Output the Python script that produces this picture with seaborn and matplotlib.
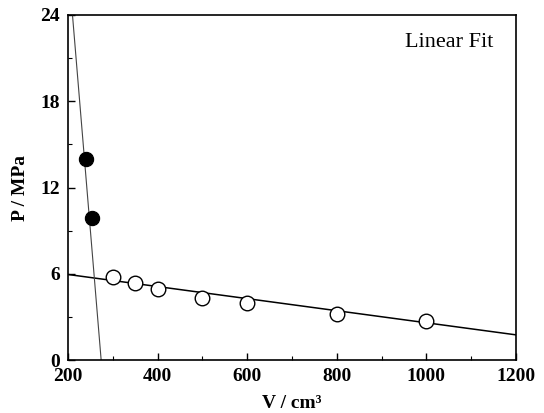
import matplotlib
matplotlib.use("Agg")
import matplotlib.pyplot as plt
import seaborn as sns
import pandas as pd
from matplotlib.ticker import MultipleLocator

# Data
v_solid = [240, 254]
p_solid = [14.0, 9.9]
v_open = [300, 350, 400, 500, 600, 800, 1000]
p_open = [5.8, 5.35, 4.95, 4.3, 3.95, 3.2, 2.7]
# fitted line end points
v_fit_low = [200, 1200]
p_fit_low = [5.95, 1.75]
v_fit_high = [210, 274]
p_fit_high = [24.0, 0.0]

sns.set_theme(style="white")
plt.rcParams['font.family'] = ['Liberation Serif', 'DejaVu Serif']
plt.rcParams['text.color'] = 'black'
plt.rcParams['axes.labelcolor'] = 'black'
plt.rcParams['xtick.color'] = 'black'
plt.rcParams['ytick.color'] = 'black'

fig = plt.figure(figsize=(5.44, 4.13), dpi=100)
ax = fig.add_axes([0.125, 0.1283, 0.8235, 0.8354])

sns.lineplot(x=v_fit_low, y=p_fit_low, ax=ax, color="black", lw=1.1, sort=False)
sns.lineplot(x=v_fit_high, y=p_fit_high, ax=ax, color="#444444", lw=0.8, sort=False)
sns.scatterplot(x=v_solid, y=p_solid, ax=ax, s=105, color="black", edgecolor="black", zorder=5)
sns.scatterplot(x=v_open, y=p_open, ax=ax, s=110, facecolor="white", edgecolor="black", linewidth=1.0, zorder=5)

ax.set_xlim(200, 1200)
ax.set_ylim(0, 24)
ax.xaxis.set_major_locator(MultipleLocator(200))
ax.xaxis.set_minor_locator(MultipleLocator(100))
ax.yaxis.set_major_locator(MultipleLocator(6))
ax.yaxis.set_minor_locator(MultipleLocator(3))
ax.tick_params(which="both", direction="in", top=False, right=False, bottom=True, left=True, colors="black")
ax.tick_params(which="major", length=5, width=1, labelsize=14, pad=6)
ax.tick_params(which="minor", length=3, width=0.8)
for lab in ax.get_xticklabels() + ax.get_yticklabels():
    lab.set_fontweight("bold")
for sp in ax.spines.values():
    sp.set_color("black")
    sp.set_linewidth(1.2)

ax.set_xlabel("V / cm³", fontsize=14, fontweight="bold", labelpad=7, color="black")
ax.set_ylabel("P / MPa", fontsize=14, fontweight="bold", labelpad=8, color="black")
ax.text(0.95, 0.92, "Linear Fit", transform=ax.transAxes, ha="right", va="center", fontsize=16, color="black")

fig.savefig("out.png", dpi=100)
